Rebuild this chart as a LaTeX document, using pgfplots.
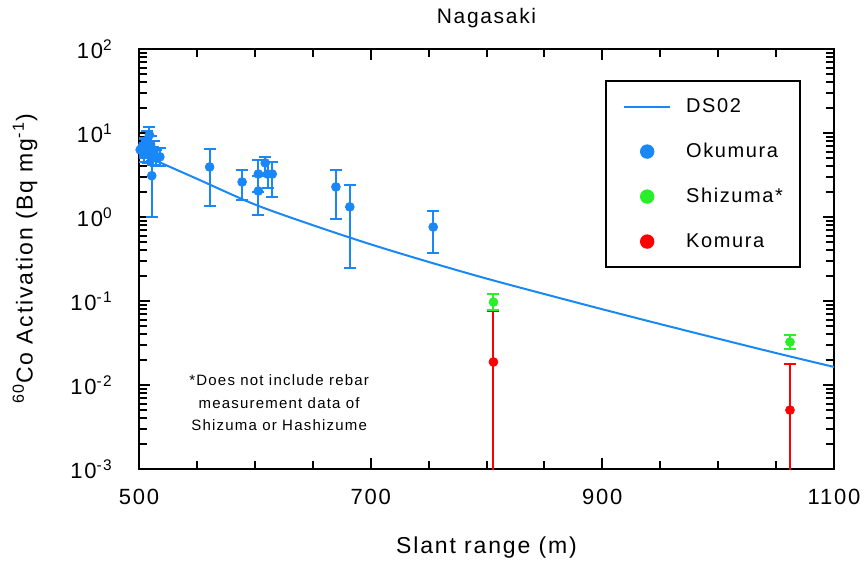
\documentclass[border=0pt]{standalone}
\usepackage{fontspec}
\setmainfont{Liberation Sans}[LetterSpace=8]
\usepackage{pgfplots}
\usepackage{pgfplotstable}
\pgfplotsset{compat=1.18}

\definecolor{dsblue}{RGB}{25,135,245}
\definecolor{shgreen}{RGB}{40,240,40}
\definecolor{kored}{RGB}{255,0,0}

% DS02 calculated activation along slant range
\pgfplotstableread{
x y
500 5.75
550 2.85
600 1.41
650 0.80
700 0.473
750 0.292
800 0.185
850 0.121
900 0.0798
950 0.0531
1000 0.0356
1050 0.0240
1100 0.0164
}\dstwo

% Okumura measurements: value, lower and upper bound
\pgfplotstableread{
x y lo hi
501 6.3 5.3 7.5
503 7.0 5.6 8.8
504 5.6 4.5 7.0
505 6.6 5.0 8.5
507 8.2 6.5 10.5
508 5.8 4.4 7.6
509 9.5 7.6 11.8
510 7.2 5.6 9.2
511 3.1 1.0 4.6
512 5.3 4.2 6.8
513 6.2 4.8 8.0
515 5.0 4.1 6.2
518 5.2 4.1 6.6
561 3.94 1.35 6.45
589 2.61 1.59 3.63
603 3.25 2.0 4.8
603 2.04 1.06 3.1
609 4.4 3.3 5.2
611 3.25 2.2 4.5
615 3.25 1.73 4.5
670 2.28 0.95 3.63
682 1.32 0.247 2.4
754 0.76 0.37 1.18
}\okumura

% Shizuma measurements
\pgfplotstableread{
x y lo hi
806 0.097 0.078 0.121
1062 0.0325 0.0269 0.0394
}\shizuma

% Komura measurements (lower bounds run below the axis)
\pgfplotstableread{
x y lo hi
806 0.0188 0.0001 0.076
1062 0.00503 0.0001 0.0178
}\komura

\begin{document}
\begin{tikzpicture}
\path[use as bounding box] (0,0) rectangle (434pt,284pt);
\begin{axis}[
  name=ax,
  at={(69.5pt,49.5pt)}, anchor=south west,
  scale only axis, width=347.5pt, height=210pt,
  xmin=500, xmax=1100,
  ymode=log, ymin=1e-3, ymax=1e2,
  xtick={500,700,900,1100},
  xticklabels={500,700,900,1100},
  minor xtick={550,600,650,750,800,850,950,1000,1050},
  ytick={1e-3,1e-2,1e-1,1,1e1,1e2},
  yticklabels={10\textsuperscript{-3},10\textsuperscript{-2},10\textsuperscript{-1},10\textsuperscript{0},10\textsuperscript{1},10\textsuperscript{2}},
  tick align=inside,
  major tick length=5.5pt, minor tick length=4pt,
  every tick/.style={black, line width=1pt},
  axis line style={black, line width=1.2pt},
  ticklabel style={font=\fontsize{11}{13}\selectfont},
  xticklabel style={anchor=center, yshift=-14pt},
  yticklabel style={anchor=east, inner sep=0pt, xshift=-13pt},
  xlabel={Slant range (m)},
  xlabel style={at={(axis description cs:0.5,-0.188)}, anchor=center, font=\fontsize{11.5}{13}\selectfont},
  ylabel={\textsuperscript{60}Co Activation (Bq mg\textsuperscript{-1})},
  ylabel style={at={(axis description cs:-0.164,0.5)}, anchor=center, font=\fontsize{11.5}{13}\selectfont},
  legend style={at={(axis description cs:0.9525,0.926)}, anchor=north east,
    draw=black, line width=1pt, inner xsep=8.5pt, inner ysep=8pt,
    row sep=13pt, column sep=7.5pt,
    font=\fontsize{10}{12}\selectfont,
    nodes={inner sep=0pt, text height=7.5pt, text depth=2pt}},
  legend cell align=left,
]
\addlegendimage{legend image code/.code={
  \path[draw=none] (0pt,-3.6pt) rectangle (23pt,3.6pt);
  \draw[dsblue, line width=1pt] (0pt,0pt) -- (23pt,0pt);}}
\addlegendentry{DS02}
\addlegendimage{legend image code/.code={
  \path[draw=none] (0pt,-3.6pt) rectangle (23pt,3.6pt);
  \fill[dsblue, draw=none] (11.5pt,0pt) circle (3.6pt);}}
\addlegendentry{Okumura}
\addlegendimage{legend image code/.code={
  \path[draw=none] (0pt,-3.6pt) rectangle (23pt,3.6pt);
  \fill[shgreen, draw=none] (11.5pt,0pt) circle (3.6pt);}}
\addlegendentry{Shizuma*}
\addlegendimage{legend image code/.code={
  \path[draw=none] (0pt,-3.6pt) rectangle (23pt,3.6pt);
  \fill[kored, draw=none] (11.5pt,0pt) circle (3.6pt);}}
\addlegendentry{Komura}

\addplot[forget plot, dsblue, line width=1pt, line join=round, smooth, tension=0.5] table[x=x, y=y] {\dstwo};

\addplot[forget plot, only marks, mark=*, mark size=2.2pt, color=dsblue,
  mark options={fill=dsblue, draw=dsblue},
  error bars/.cd, y dir=both, y explicit,
  error bar style={line width=1pt, dsblue},
  error mark options={rotate=90, mark size=3pt, line width=1pt, dsblue}]
  table[x=x, y=y, y error plus expr=\thisrow{hi}-\thisrow{y}, y error minus expr=\thisrow{y}-\thisrow{lo}] {\okumura};

\addplot[forget plot, only marks, mark=*, mark size=2.2pt, color=kored,
  mark options={fill=kored, draw=kored},
  error bars/.cd, y dir=both, y explicit,
  error bar style={line width=1pt, kored},
  error mark options={rotate=90, mark size=3pt, line width=1pt, kored}]
  table[x=x, y=y, y error plus expr=\thisrow{hi}-\thisrow{y}, y error minus expr=\thisrow{y}-\thisrow{lo}] {\komura};

\addplot[forget plot, only marks, mark=*, mark size=2.2pt, color=shgreen,
  mark options={fill=shgreen, draw=shgreen},
  error bars/.cd, y dir=both, y explicit,
  error bar style={line width=1pt, shgreen},
  error mark options={rotate=90, mark size=3pt, line width=1pt, shgreen}]
  table[x=x, y=y, y error plus expr=\thisrow{hi}-\thisrow{y}, y error minus expr=\thisrow{y}-\thisrow{lo}] {\shizuma};

\node[align=center, font=\fontsize{7.5}{11.2}\selectfont] at (axis cs:621,0.0061)
  {*Does not include rebar\\measurement data of\\Shizuma or Hashizume};
\end{axis}
\node[font=\fontsize{10.5}{12}\selectfont, anchor=center] at ([yshift=15.5pt]ax.north) {Nagasaki};
\end{tikzpicture}
\end{document}
